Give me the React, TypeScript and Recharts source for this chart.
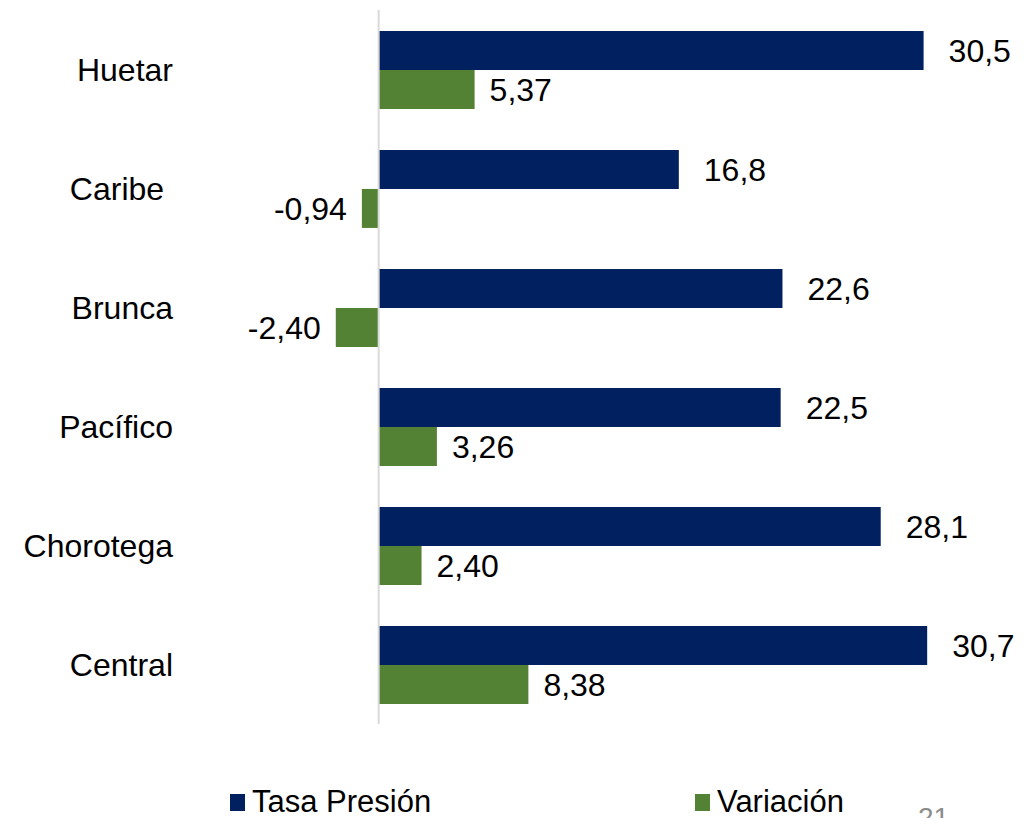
import { BarChart, Bar, XAxis, YAxis, LabelList, ReferenceLine } from "recharts";

const regiones = ["Huetar", "Caribe ", "Brunca", "Pacífico", "Chorotega", "Central"];
const tasaPresion = [30.5, 16.8, 22.6, 22.5, 28.1, 30.7];
const variacion = [5.37, -0.94, -2.4, 3.26, 2.4, 8.38];

const NAVY = "#002060";
const GREEN = "#548235";
const FONT = "'Liberation Sans', Arial, sans-serif";

const data = regiones.map((name, i) => ({
  name,
  tasa: tasaPresion[i],
  variacion: variacion[i],
}));

const fmt = (digits: number) => (v: any) => Number(v).toFixed(digits).replace(".", ",");

function CategoryTick(props: any) {
  const { y, payload } = props;
  return (
    <text x={173} y={y} dy={11} textAnchor="end" fontSize={32} fontFamily={FONT} fill="#000" style={{ whiteSpace: "pre" }}>
      {payload.value}
    </text>
  );
}

function LegendBox() {
  const items = [
    { label: "Tasa Presión", color: NAVY, x: 230 },
    { label: "Variación", color: GREEN, x: 695 },
  ];
  return (
    <div style={{ position: "absolute", left: 0, top: 786, width: 1035, height: 32 }}>
      {items.map((it) => (
        <div
          key={it.label}
          style={{ position: "absolute", left: it.x, top: 0, height: 32, display: "flex", alignItems: "center", fontFamily: FONT, fontSize: 31, color: "#000" }}
        >
          <span style={{ display: "inline-block", width: 15, height: 17, background: it.color, marginRight: 7 }} />
          <span style={{ lineHeight: "32px" }}>{it.label}</span>
        </div>
      ))}
    </div>
  );
}

export default function App() {
  return (
    <div style={{ position: "relative", width: 1035, height: 818, overflow: "hidden", background: "#fff" }}>
      <style>{`body{margin:0}`}</style>
      <BarChart
        width={1035}
        height={818}
        data={data}
        layout="vertical"
        margin={{ top: 10, right: 31, bottom: 94, left: 0 }}
        barCategoryGap="17.6%"
        barGap={0}
      >
        <XAxis type="number" domain={[-10, 35]} hide allowDataOverflow />
        <YAxis
          type="category"
          dataKey="name"
          width={200}
          axisLine={false}
          tickLine={false}
          tick={<CategoryTick />}
        />
        <ReferenceLine x={0} stroke="#d9d9d9" strokeWidth={2} />
        <Bar dataKey="tasa" name="Tasa Presión" fill={NAVY} isAnimationActive={false}>
          <LabelList dataKey="tasa" position="right" offset={25} formatter={fmt(1)} fill="#000" fontSize={32} fontFamily={FONT} />
        </Bar>
        <Bar dataKey="variacion" name="Variación" fill={GREEN} isAnimationActive={false}>
          <LabelList dataKey="variacion" position="right" offset={15} formatter={fmt(2)} fill="#000" fontSize={32} fontFamily={FONT} />
        </Bar>
      </BarChart>
      <LegendBox />
      <div style={{ position: "absolute", left: 918, top: 803, fontFamily: FONT, fontSize: 28, lineHeight: "30px", color: "#8c8c8c" }}>21</div>
    </div>
  );
}
